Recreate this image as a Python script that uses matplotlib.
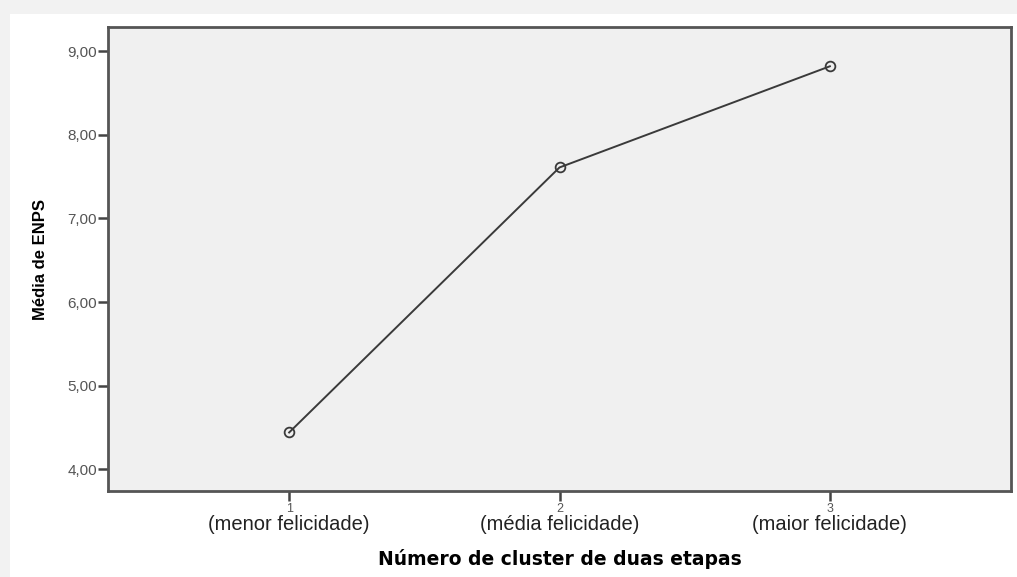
import matplotlib.pyplot as plt
from matplotlib.patches import Rectangle

clusters = [1, 2, 3]
cluster_names = ["(menor felicidade)", "(média felicidade)", "(maior felicidade)"]
enps_mean = [4.44, 7.61, 8.82]
y_ticks = [4, 5, 6, 7, 8, 9]

fig = plt.figure(figsize=(10.17, 5.77), dpi=100, facecolor="#f2f2f2")
# white panel like the screenshot's card
fig.patches.append(Rectangle((10 / 1017, 0), 1, (577 - 14) / 577,
                             transform=fig.transFigure, facecolor="white",
                             edgecolor="none", zorder=-10))

ax = fig.add_axes([108 / 1017, 1 - 491 / 577, 903 / 1017, 464 / 577])
ax.set_zorder(5)
ax.set_facecolor("#f0f0f0")
ax.plot(clusters, enps_mean, color="#3a3a3a", linewidth=1.4,
        marker="o", markersize=7, markerfacecolor="none",
        markeredgecolor="#3a3a3a", markeredgewidth=1.3)

ax.set_xlim(0.33, 3.67)
ax.set_ylim(3.74, 9.29)
ax.set_yticks(y_ticks)
ax.set_yticklabels([f"{v:.2f}".replace(".", ",") for v in y_ticks],
                   fontsize=11, color="#555555", family="Liberation Sans")
ax.set_xticks(clusters)
ax.set_xticklabels([str(c) for c in clusters], fontsize=9, color="#555555",
                   family="Liberation Sans")
ax.tick_params(axis="both", direction="out", length=7, width=1.8,
               color="#444444", pad=2)
ax.tick_params(axis="y", pad=1)

for s in ax.spines.values():
    s.set_color("#555555")
    s.set_linewidth(2)

for c, name in zip(clusters, cluster_names):
    ax.annotate(name, xy=(c, 0), xycoords=("data", "axes fraction"),
                xytext=(0, -24), textcoords="offset points",
                ha="center", va="center", fontsize=14.5, color="#222222",
                family="Liberation Sans")

ax.set_xlabel("Número de cluster de duas etapas", fontsize=13.5,
              fontweight="bold", family="DejaVu Sans", labelpad=24)
ax.set_ylabel("Média de ENPS", fontsize=12, fontweight="bold",
              family=["Liberation Sans Narrow", "Liberation Sans"], labelpad=14)

fig.savefig("out.png", dpi=100, facecolor=fig.get_facecolor())
